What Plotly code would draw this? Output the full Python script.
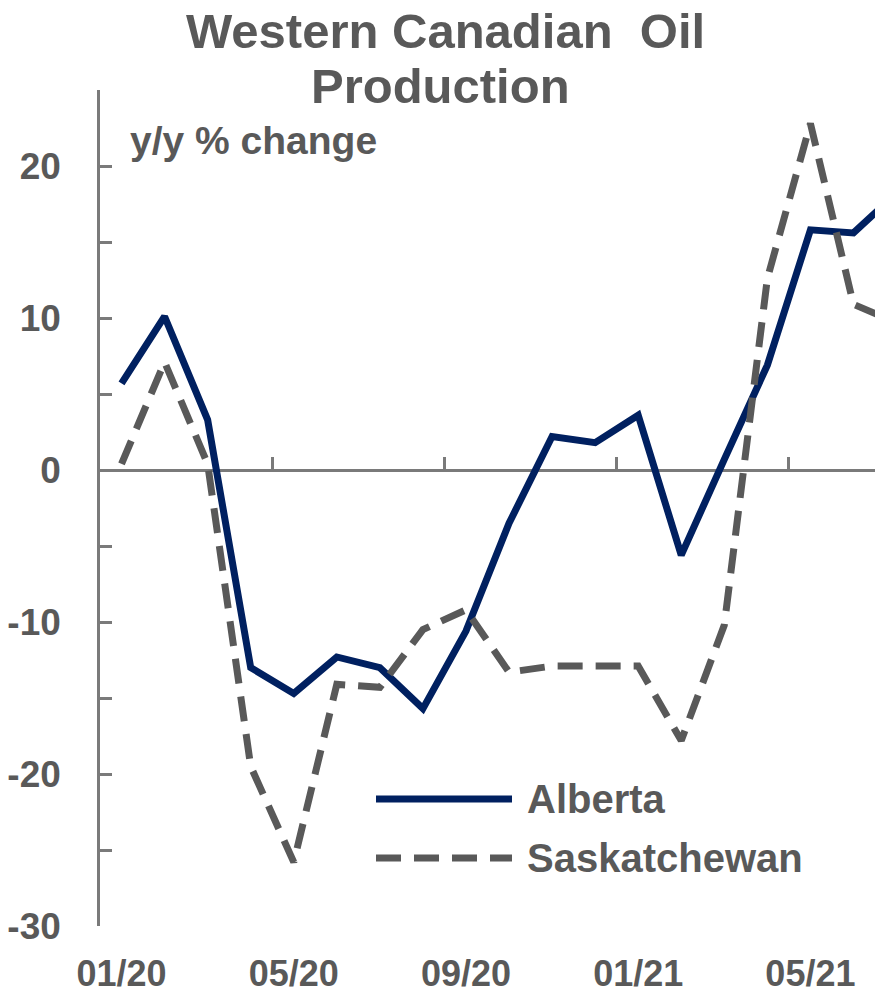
import plotly.graph_objects as go

# ---- data ----
months = ["01/20", "02/20", "03/20", "04/20", "05/20", "06/20", "07/20", "08/20",
          "09/20", "10/20", "11/20", "12/20", "01/21", "02/21", "03/21", "04/21",
          "05/21", "06/21", "07/21"]
alberta = [5.7, 10.1, 3.3, -13.0, -14.7, -12.3, -13.0, -15.7, -10.6, -3.5,
           2.2, 1.8, 3.6, -5.6, 0.7, 6.9, 15.8, 15.6, 18.2]
saskatchewan = [0.4, 7.1, 0.4, -19.5, -25.8, -14.1, -14.3, -10.5, -9.2, -13.3,
                -12.9, -12.9, -12.9, -17.8, -10.2, 12.6, 22.8, 10.9, 9.7]
y_ticks = [-30, -25, -20, -15, -10, -5, 0, 5, 10, 15, 20, 25]
y_labels = ["-30", "", "-20", "", "-10", "", "0", "", "10", "", "20", ""]
series_names = ["Alberta", "Saskatchewan"]

# ---- style ----
NAVY = "#002060"
DGRAY = "#595959"
AXIS = "#7a7a7a"
FONT = "Arial, Liberation Sans, sans-serif"
DASH = "25px,13px"
Y_MIN, Y_MAX = -30, 25
X_MIN, X_MAX = -0.5, 17.5

x_idx = list(range(len(months)))

fig = go.Figure()
fig.add_trace(go.Scatter(x=x_idx, y=alberta, mode="lines", name=series_names[0],
                         line=dict(color=NAVY, width=7), showlegend=False))
fig.add_trace(go.Scatter(x=x_idx, y=saskatchewan, mode="lines", name=series_names[1],
                         line=dict(color=DGRAY, width=7, dash=DASH),
                         showlegend=False))
# helper trace so that the label axis (bottom) exists
fig.add_trace(go.Scatter(x=x_idx, y=[None] * len(x_idx), xaxis="x2", mode="lines",
                         hoverinfo="skip", showlegend=False))

zero_pos = (0 - Y_MIN) / (Y_MAX - Y_MIN)
boundary_ticks = [x_idx[i] - 0.5 for i in range(0, len(x_idx) - 1, 4)]

fig.update_layout(
    width=875, height=995,
    margin=dict(l=100, r=0, t=90, b=69),
    paper_bgcolor="white", plot_bgcolor="white",
    font=dict(family=FONT, color=DGRAY),
    xaxis=dict(
        range=[X_MIN, X_MAX], anchor="free", position=zero_pos,
        showline=True, linecolor=AXIS, linewidth=2.5,
        ticks="inside", ticklen=12, tickwidth=2.5, tickcolor=AXIS,
        tickvals=boundary_ticks, showticklabels=False, automargin=False,
        showgrid=False, zeroline=False, layer="below traces",
    ),
    xaxis2=dict(
        range=[X_MIN, X_MAX], overlaying="x", anchor="y", side="bottom",
        showline=False, ticks="", showgrid=False, zeroline=False,
        tickvals=x_idx[::4], ticktext=months[::4], automargin=False,
        tickfont=dict(size=36, family=FONT, color=DGRAY, weight="bold"),
        ticklabelstandoff=23,
    ),
    yaxis=dict(
        range=[Y_MIN, Y_MAX], domain=[0, 1],
        showline=True, linecolor=AXIS, linewidth=2.5,
        ticks="inside", ticklen=12, tickwidth=2.5, tickcolor=AXIS,
        tickvals=y_ticks, ticktext=y_labels, automargin=False,
        tickfont=dict(size=37, family=FONT, color=DGRAY, weight="bold"),
        ticklabelstandoff=29,
        showgrid=False, zeroline=False, layer="below traces",
    ),
)

def px(xp):
    return (xp - 100) / 775

def py(yp):
    return (926 - yp) / 836

# title (two lines)
fig.add_annotation(text="Western Canadian  Oil", x=px(445), y=py(31), xref="paper", yref="paper",
                   showarrow=False, xanchor="center", yanchor="middle",
                   font=dict(size=49, family=FONT, color=DGRAY, weight="bold"))
fig.add_annotation(text="Production", x=px(440), y=py(86), xref="paper", yref="paper",
                   showarrow=False, xanchor="center", yanchor="middle",
                   font=dict(size=49, family=FONT, color=DGRAY, weight="bold"))
# unit label
fig.add_annotation(text="y/y % change", x=px(128), y=py(140), xref="paper", yref="paper",
                   showarrow=False, xanchor="left", yanchor="middle",
                   font=dict(size=39, family=FONT, color=DGRAY, weight="bold"))

# custom legend (long line samples)
legend_rows = [(series_names[0], NAVY, "solid", 799), (series_names[1], DGRAY, DASH, 858)]
for name, col, dash, yrow in legend_rows:
    fig.add_shape(type="line", xref="paper", yref="paper",
                  x0=px(376), x1=px(512), y0=py(yrow), y1=py(yrow),
                  line=dict(color=col, width=7, dash=dash))
    fig.add_annotation(text=name, x=px(525), y=py(yrow), xref="paper", yref="paper",
                       showarrow=False, xanchor="left", yanchor="middle",
                       font=dict(size=40, family=FONT, color=DGRAY, weight="bold"))

fig.write_html(
    "out.html",
    config={"displayModeBar": False},
    post_script="document.body.style.margin='0';document.body.style.overflow='hidden';",
)
